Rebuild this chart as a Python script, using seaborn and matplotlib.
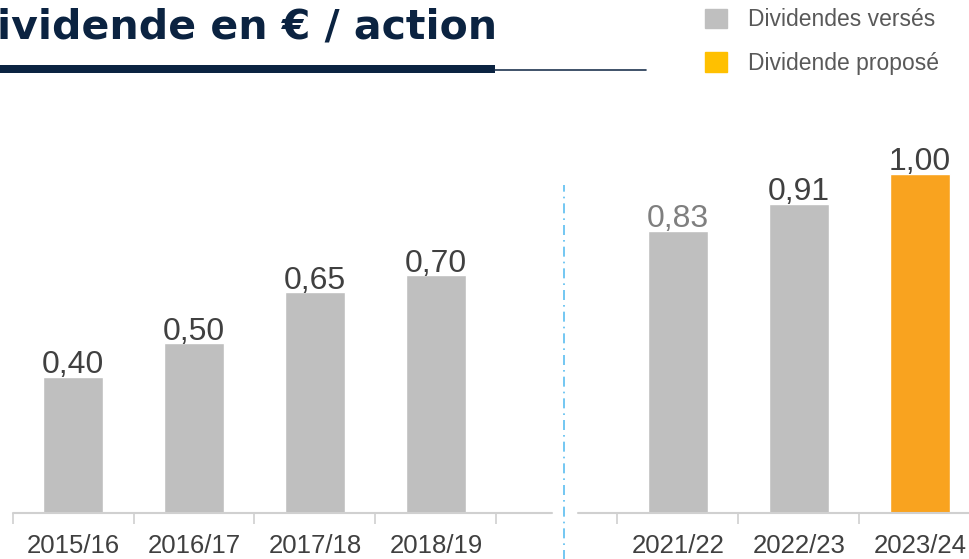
import pandas as pd
import matplotlib.pyplot as plt
import seaborn as sns
from matplotlib.patches import Patch, Rectangle
from matplotlib.lines import Line2D

# Données : dividende par action
saisons_avant = ["2015/16", "2016/17", "2017/18", "2018/19"]
saisons_apres = ["2021/22", "2022/23", "2023/24"]
dividendes = [0.40, 0.50, 0.65, 0.70, 0.83, 0.91, 1.00]
types = ["Dividendes versés"] * 6 + ["Dividende proposé"]

GRIS = "#BFBFBF"
ORANGE = "#F9A31F"
ORANGE_LEGENDE = "#FFC000"
MARINE = "#0B2341"
TEXTE = "#404040"

df = pd.DataFrame({
    "saison": saisons_avant + saisons_apres,
    "dividende": dividendes,
    "type": types,
})
ordre = saisons_avant + [" "] + saisons_apres

sns.set_theme(style="white")
plt.rcParams["font.family"] = ["Liberation Sans", "DejaVu Sans"]

fig = plt.figure(figsize=(9.69, 5.59), dpi=100)
W, H = 969, 559
SLOT = 121.0  # largeur d'une catégorie en pixels
ax = fig.add_axes([12.5 / W, 46 / H, (W - 12.5) / W, 404 / H])

sns.barplot(data=df, x="saison", y="dividende", hue="type", order=ordre,
            palette={"Dividendes versés": GRIS, "Dividende proposé": ORANGE},
            dodge=False, width=0.5, legend=False, saturation=1, ax=ax)

ax.set_xlabel("")
ax.set_ylabel("")
ax.set_yticks([])
for s in ax.spines.values():
    s.set_visible(False)

# étiquettes de valeur
for p in ax.patches:
    h = p.get_height()
    if pd.isna(h) or h <= 0:
        continue
    couleur = "#7F7F7F" if abs(h - 0.83) < 1e-6 else TEXTE
    ax.text(p.get_x() + p.get_width() / 2, h + 0.011, f"{h:.2f}".replace(".", ","),
            ha="center", va="baseline", fontsize=23, color=couleur)

# axe horizontal coupé
x_coupure = 4.06
ax.plot([-0.5, 3.96], [0, 0], color="#D0D0D0", lw=1.5, clip_on=False)
ax.plot([4.17, 8], [0, 0], color="#D0D0D0", lw=1.5, clip_on=False)
ax.plot([x_coupure, x_coupure], [-0.14, 0.965], color="#5BBDF0", lw=1.2,
        linestyle=(0, (6, 3, 1, 3)), clip_on=False)

ax.set_xticks([-0.5, 0.5, 1.5, 2.5, 3.5, 4.5, 5.5, 6.5, 7.5], minor=True)
ax.tick_params(axis="x", which="major", length=0, pad=15, labelsize=18.5, labelcolor=TEXTE)
ax.tick_params(axis="x", which="minor", length=8, width=1.2, color="#D0D0D0", bottom=True)

ax.set_autoscale_on(False)
ax.set_xlim(-0.5, -0.5 + (W - 12.5) / SLOT)
ax.set_ylim(0, 1.19)

# titre et soulignement
fig.text(497 / W, 1 - 38 / H, "Dividende en € / action", ha="right", va="baseline",
         fontsize=29.5, fontweight="bold", color=MARINE, family="DejaVu Sans")
fig.patches.append(Rectangle((0, 1 - 73 / H), 495 / W, 8 / H, transform=fig.transFigure,
                             color=MARINE, lw=0))
fig.lines.append(Line2D([495 / W, 646 / W], [1 - 69.5 / H, 1 - 69.5 / H],
                        transform=fig.transFigure, color="#1F3550", lw=1.2))

# légende
poignees = [Patch(color=GRIS), Patch(color=ORANGE_LEGENDE)]
fig.legend(poignees, ["Dividendes versés", "Dividende proposé"], loc="upper left",
           bbox_to_anchor=(687 / W, 1 + 10 / H), frameon=False, fontsize=16.5,
           handlelength=0.95, handleheight=0.95, handletextpad=0.9, labelspacing=0.9,
           labelcolor="#595959", borderpad=0.3)

fig.savefig("out.png", dpi=100)
